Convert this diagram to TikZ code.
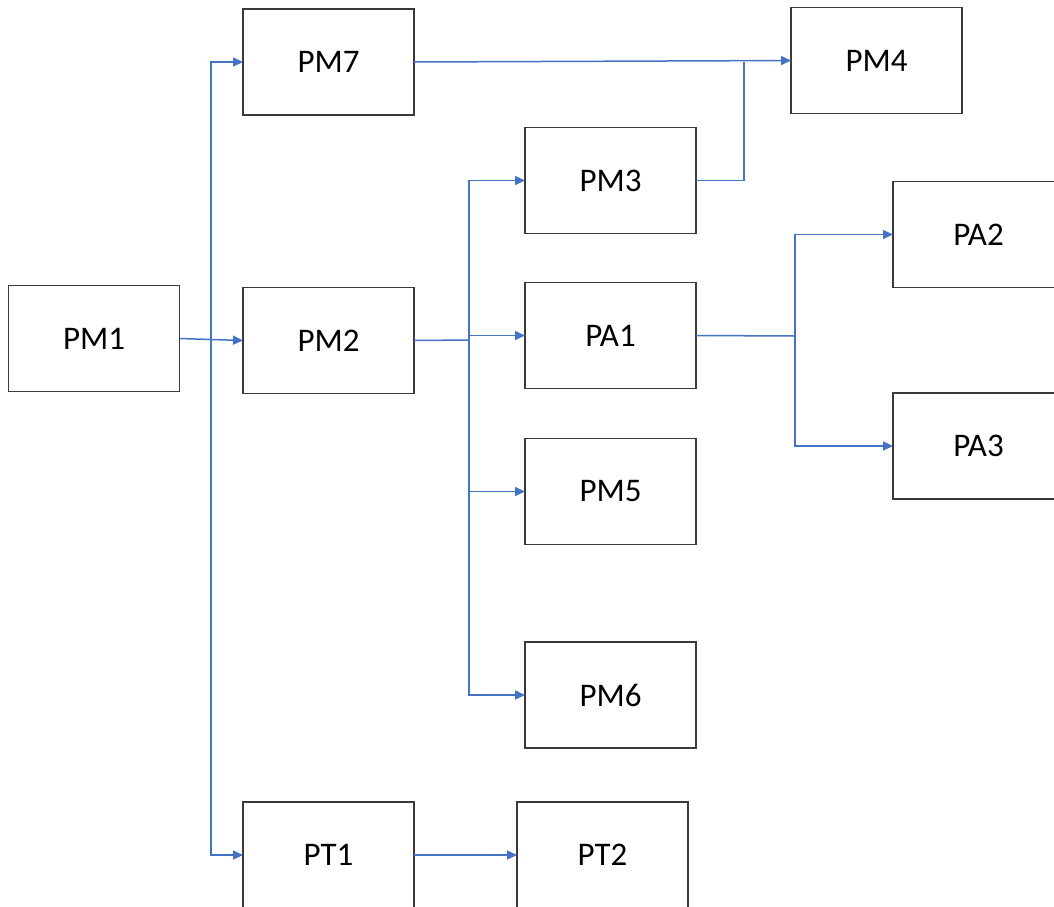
\documentclass[tikz,border=0pt]{standalone}
\usepackage{fontspec}
\setmainfont{Carlito}
\usetikzlibrary{arrows.meta}
\definecolor{lineblue}{HTML}{4472C4}
\definecolor{boxgray}{HTML}{3A3A3A}
\begin{document}
\begin{tikzpicture}[x=1pt,y=-1pt,
  box/.style={draw=boxgray,line width=1.5pt,minimum width=171pt,minimum height=106pt,inner sep=0pt,outer sep=0pt,font=\fontsize{33}{36}\selectfont},
  arr/.style={draw=lineblue,line width=1.5pt,-{Triangle[length=10pt,width=9pt]}},
  ln/.style={draw=lineblue,line width=1.5pt}]
\clip (0,0) rectangle (1054,906);
\useasboundingbox (0,0) rectangle (1054,906);
\node[box] (PM1) at (94,338.5) {PM1};
\node[box] (PM7) at (328.5,62) {PM7};
\node[box] (PM2) at (328.5,340.5) {PM2};
\node[box] (PM4) at (876.5,60.5) {PM4};
\node[box] (PM3) at (610.5,180.5) {PM3};
\node[box] (PA1) at (610.5,335.5) {PA1};
\node[box] (PM5) at (610.5,491.5) {PM5};
\node[box] (PM6) at (610.5,695) {PM6};
\node[box] (PA2) at (978.5,234.5) {PA2};
\node[box] (PA3) at (978.5,446) {PA3};
\node[box] (PT1) at (328.5,855) {PT1};
\node[box] (PT2) at (602.5,855) {PT2};
\coordinate (j1) at (211,340);
\coordinate (j2) at (469,340);
\coordinate (j3) at (795,336);
\coordinate (j4) at (744,62);
% PM1 branches
\draw[arr] (PM1.east) -- (PM2.west);
\draw[arr] (j1) |- (PM7.west);
\draw[arr] (j1) |- (PT1.west);
% PM7 / PM3 to PM4
\draw[arr] (PM7.east) -- (PM4.west);
\draw[ln] (PM3.east) -| (j4);
% PM2 branches
\draw[ln] (PM2.east) -- (j2);
\draw[arr] (j2) |- (PM3.west);
\draw[arr] (j2 |- PA1.west) -- (PA1.west);
\draw[arr] (j2) |- (PM5.west);
\draw[arr] (j2) |- (PM6.west);
% PA1 branches
\draw[ln] (PA1.east) -- (j3);
\draw[arr] (j3) |- (PA2.west);
\draw[arr] (j3) |- (PA3.west);
% PT1 to PT2
\draw[arr] (PT1.east) -- (PT2.west);
\end{tikzpicture}
\end{document}
